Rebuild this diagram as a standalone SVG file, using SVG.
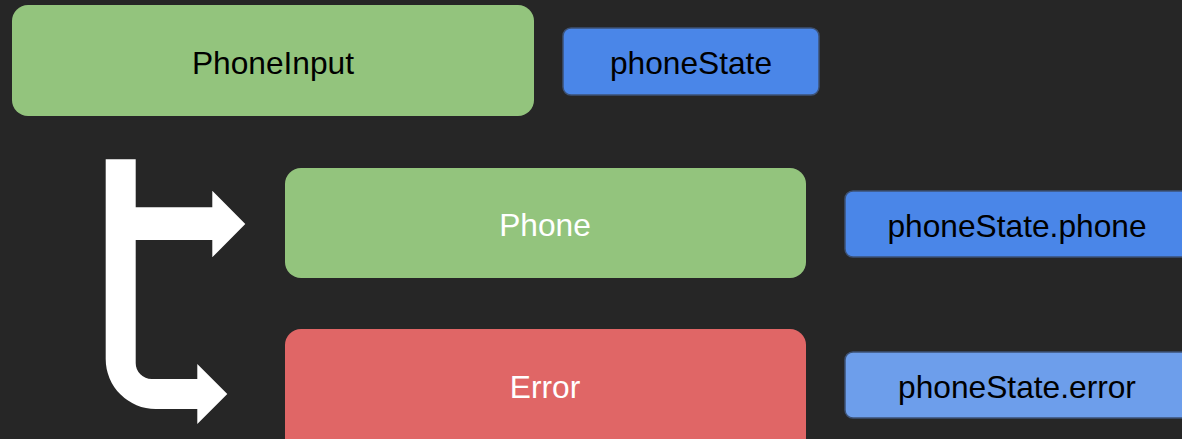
<svg xmlns="http://www.w3.org/2000/svg" width="1182" height="439" viewBox="0 0 1182 439">
  <style>
    .lbl { font-family: "Liberation Sans", Arial, sans-serif; font-size: 31.7px; text-anchor: middle; }
    .dark { fill: #000000; }
    .light { fill: #ffffff; }
    .green { fill: #93c47d; }
    .red { fill: #e06666; }
    .blue { fill: #4a86e8; stroke: #3d5275; stroke-width: 1.5; }
    .lblue { fill: #6d9eeb; stroke: #3d5275; stroke-width: 1.5; }
  </style>
  <rect x="0" y="0" width="1182" height="439" fill="#262626"/>
  <g id="connectors">
    <path fill="#ffffff" d="M105.7,159.3 H135.7 V207.3 H212.3 V190.7 L245.3,224 L212.3,257.3 V240 H135.7 V363 A16,16 0 0 0 151.7,379 H197.3 V364 L227.3,394 L197.3,424 V409 H155.7 A50,50 0 0 1 105.7,359 Z"/>
  </g>
  <g id="node-phoneinput">
    <rect class="green" x="12" y="5" width="522" height="111" rx="16"/>
    <text class="lbl dark" x="273" y="74">PhoneInput</text>
  </g>
  <g id="node-phonestate">
    <rect class="blue" x="563" y="28" width="256" height="67" rx="8"/>
    <text class="lbl dark" x="691" y="74">phoneState</text>
  </g>
  <g id="node-phone">
    <rect class="green" x="285" y="168" width="521" height="110" rx="16"/>
    <text class="lbl light" x="545" y="236">Phone</text>
  </g>
  <g id="node-phonestate-phone">
    <rect class="blue" x="845" y="191" width="346" height="66" rx="8"/>
    <text class="lbl dark" x="1017" y="237">phoneState.phone</text>
  </g>
  <g id="node-error">
    <rect class="red" x="285" y="329" width="521" height="126" rx="16"/>
    <text class="lbl light" x="545" y="398">Error</text>
  </g>
  <g id="node-phonestate-error">
    <rect class="lblue" x="845" y="352" width="346" height="66" rx="8"/>
    <text class="lbl dark" x="1017" y="398">phoneState.error</text>
  </g>
</svg>
